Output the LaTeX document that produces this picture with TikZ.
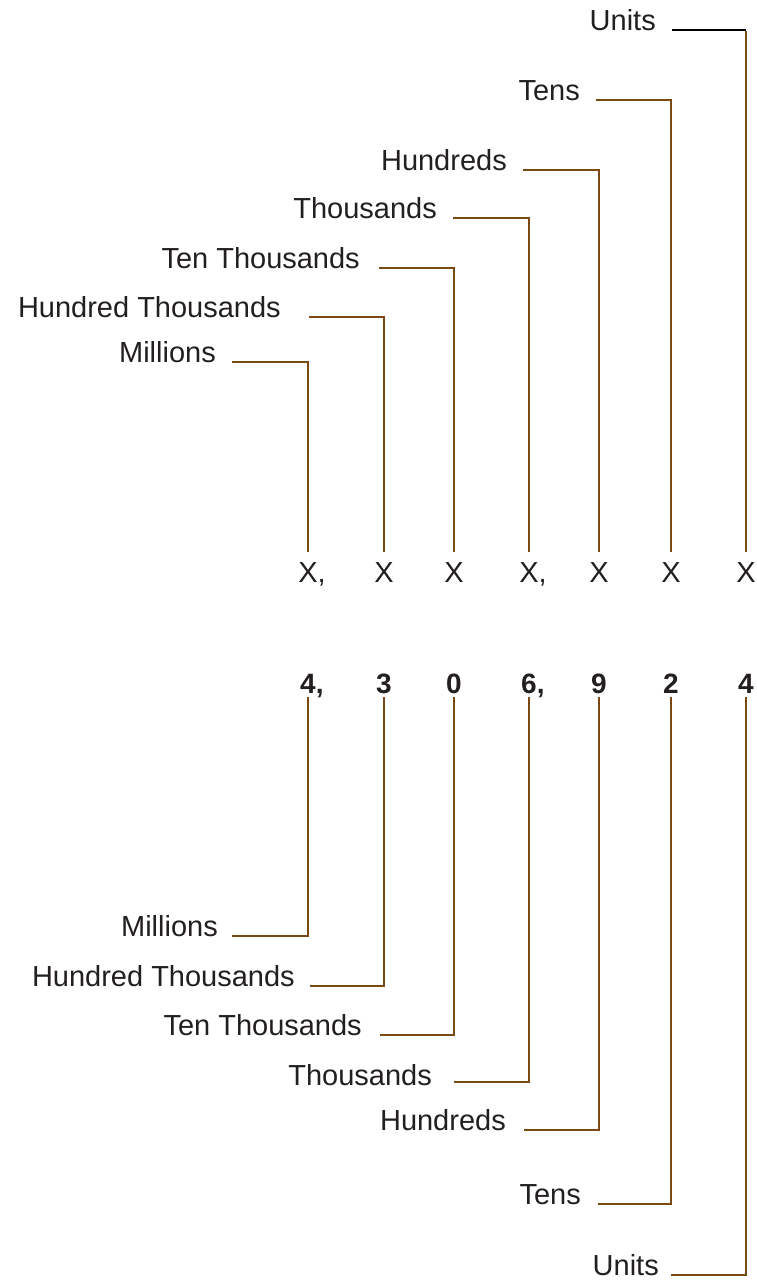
\documentclass[tikz,border=0pt]{standalone}
\usepackage{fontspec}
\setmainfont{Liberation Sans}
\definecolor{brn}{RGB}{123,74,18}
\definecolor{ink}{RGB}{35,31,32}
\begin{document}
\begin{tikzpicture}[x=1pt,y=-1pt,
  lab/.style={anchor=base east, inner sep=0pt, font=\fontsize{29}{31}\selectfont, text=ink},
  xnode/.style={anchor=base, inner xsep=0pt, inner ysep=9pt, text height=21pt, text depth=0pt, font=\fontsize{29}{31}\selectfont, text=ink},
  dnode/.style={anchor=base, inner xsep=0pt, inner ysep=4pt, text height=20pt, text depth=0pt, font=\fontsize{28}{30}\selectfont\bfseries, text=ink},
  wire/.style={draw=brn, line width=2.5pt, line join=miter, line cap=butt}]
\useasboundingbox (0,0) rectangle (756,1280);
% X row and digit row
\foreach \i/\c/\t/\d in {1/308/X\rlap{,}/4\rlap{,}, 2/384/X/3, 3/454/X/0, 4/529/X\rlap{,}/6\rlap{,}, 5/599/X/9, 6/671/X/2, 7/746/X/4}{
  \node[xnode] (x\i) at (\c,582) {\t};
  \node[dnode] (d\i) at (\c,693) {\d};
}
% top labels
\foreach \i/\txt/\te/\gap/\y in {1/Millions/216/16/362, 2/Hundred Thousands/281/28/317, 3/Ten Thousands/360/19/268, 4/Thousands/437/16/218, 5/Hundreds/507/16/170, 6/Tens/580/16/100}{
  \node[lab] (t\i) at (\te,\y) {\txt};
  \draw[wire] ([xshift=\gap pt]t\i.base east) -| (x\i.north);
}
\node[lab] (t7) at (656,30) {Units};
\draw[line width=2.5pt, black] ([xshift=16pt]t7.base east) -- (x7.north |- t7.base);
\draw[wire] ([yshift=-1.25pt]x7.north |- t7.base) -- (x7.north);
% bottom labels
\foreach \i/\txt/\te/\gap/\y/\dy in {1/Millions/218/14/936/0, 2/Hundred Thousands/295/15/986/0, 3/Ten Thousands/362/18/1035/0, 4/Thousands/432/22/1085/3, 5/Hundreds/506/18/1130/0, 6/Tens/581/17/1204/0, 7/Units/659/12/1275/0}{
  \node[lab] (b\i) at (\te,\y) {\txt};
  \draw[wire] ([xshift=\gap pt, yshift=\dy pt]b\i.base east) -| (d\i.south);
}
\end{tikzpicture}
\end{document}
